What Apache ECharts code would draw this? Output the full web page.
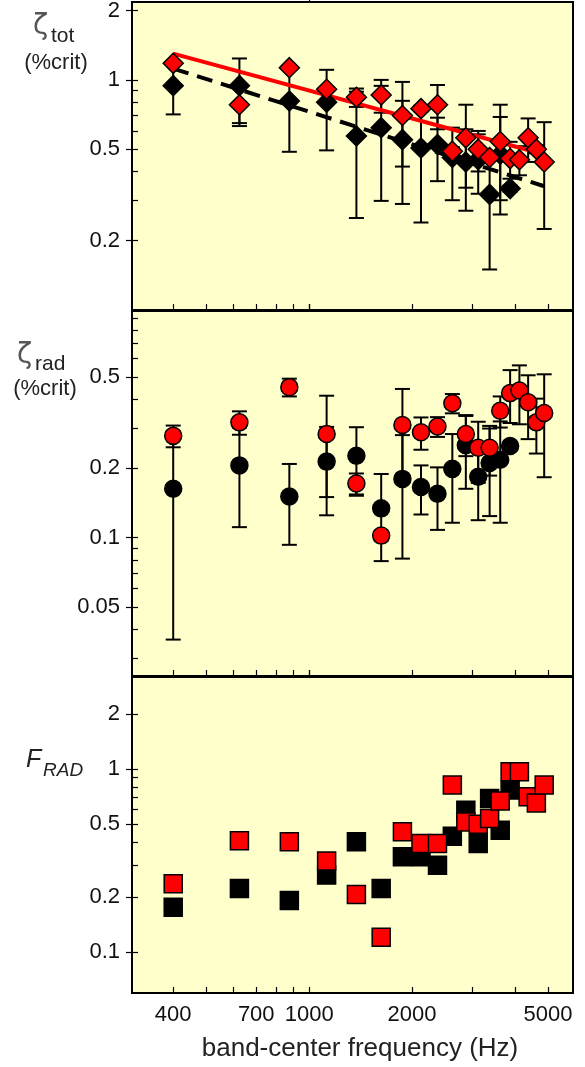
<!DOCTYPE html>
<html>
<head>
<meta charset="utf-8">
<title>Damping vs band-center frequency</title>
<script src="https://cdn.jsdelivr.net/npm/echarts@6.0.0/dist/echarts.min.js"></script>
<style>
  html, body { margin: 0; padding: 0; background: #fff; }
  #chart { width: 585px; height: 1067px; }
</style>
</head>
<body>
<div id="chart"></div>
<script>
// band-center frequencies (Hz); the black data stops at 3875 Hz
const freqs = [400, 625, 875, 1125, 1375, 1625, 1875, 2125, 2375, 2625, 2875, 3125, 3375, 3625, 3875, 4125, 4375, 4625, 4875];
const freqsBlack = freqs.slice(0, 15);

// panel 1: total damping (%crit), with +/- error
const totRed = [1.18, 0.78, 1.13, 0.91, 0.84, 0.86, 0.70, 0.75, 0.78, 0.49, 0.56, 0.50, 0.46, 0.54, 0.455, 0.45, 0.56, 0.50, 0.44];
const totRedErr = [0.01, 0.15, 0.01, 0.02, 0.077, 0.14, 0.28, 0.02, 0.17, 0.02, 0.22, 0.10, 0.01, 0.24, 0.083, 0.065, 0.12, 0.02, 0.215];
const totBlack = [0.944, 0.944, 0.81, 0.80, 0.57, 0.62, 0.55, 0.506, 0.524, 0.46, 0.44, 0.45, 0.318, 0.475, 0.337];
const totBlackErr = [0.236, 0.295, 0.323, 0.306, 0.319, 0.322, 0.261, 0.266, 0.161, 0.16, 0.17, 0.13, 0.168, 0.215, 0.01];

// fitted trend lines in panel 1 (end points)
const fitRedFreq = [400, 4625];
const fitRedTot = [1.30, 0.485];
const fitBlackFreq = [400, 4875];
const fitBlackTot = [1.12, 0.345];

// panel 2: radiation damping (%crit)
const radRed = [0.277, 0.317, 0.451, 0.282, 0.172, 0.102, 0.309, 0.287, 0.304, 0.384, 0.282, 0.246, 0.246, 0.356, 0.425, 0.436, 0.388, 0.317, 0.348];
const radRedErr = [0.03, 0.037, 0.04, 0.132, 0.018, 0.005, 0.134, 0.046, 0.03, 0.037, 0.056, 0.073, 0.06, 0.055, 0.11, 0.125, 0.12, 0.085, 0.165];
const radBlack = [0.163, 0.206, 0.151, 0.214, 0.227, 0.134, 0.180, 0.166, 0.155, 0.199, 0.252, 0.184, 0.211, 0.218, 0.25];
const radBlackErr = [0.127, 0.095, 0.058, 0.089, 0.075, 0.055, 0.099, 0.04, 0.047, 0.083, 0.089, 0.065, 0.087, 0.102, 0.01];

// panel 3: F_RAD
const fradRed = [0.237, 0.406, 0.401, 0.315, 0.207, 0.121, 0.455, 0.393, 0.393, 0.818, 0.515, 0.50, 0.538, 0.669, 0.967, 0.967, 0.706, 0.654, 0.818];
const fradBlack = [0.176, 0.223, 0.192, 0.264, 0.401, 0.223, 0.332, 0.332, 0.299, 0.43, 0.597, 0.393, 0.692, 0.464, 0.768];

// ticks
const xTicks = [400, 500, 600, 700, 800, 900, 1000, 2000, 3000, 4000, 5000];
const xLabels = [400, 700, 1000, 2000, 5000];
const totLabels = [0.2, 0.5, 1, 2];
const totMinor = [0.3, 0.4, 0.6, 0.7, 0.8, 0.9];
const radLabels = [0.05, 0.1, 0.2, 0.5];
const radMinor = [0.03, 0.04, 0.06, 0.07, 0.08, 0.09, 0.3, 0.4, 0.6, 0.7, 0.8, 0.9];
const fradLabels = [0.1, 0.2, 0.5, 1, 2];
const fradMinor = [0.3, 0.4, 0.6, 0.7, 0.8, 0.9];

const FONT = '"Liberation Sans", Arial, Helvetica, sans-serif';
const RED = '#ff0000';

const panels = [
  { top: 2, height: 308, min: 0.1, max: 2.18, labels: totLabels, minor: totMinor },
  { top: 311, height: 365, min: 0.025, max: 0.967, labels: radLabels, minor: radMinor },
  { top: 677, height: 316, min: 0.06, max: 3.18, labels: fradLabels, minor: fradMinor }
];

function pts(xs, ys) {
  return xs.map((x, i) => [x, ys[i]]);
}
function errData(xs, ys, es) {
  return xs.map((x, i) => [x, ys[i] - es[i], ys[i] + es[i]]);
}
function fmt(v) {
  return String(Number(Number(v).toPrecision(3)));
}

// vertical error bar with caps
function renderErrorBar(params, api) {
  const x = api.value(0);
  const lo = api.coord([x, api.value(1)]);
  const hi = api.coord([x, api.value(2)]);
  const half = 7.5;
  const st = () => ({ stroke: '#000', lineWidth: 2 });
  return {
    type: 'group',
    children: [
      { type: 'line', shape: { x1: lo[0], y1: lo[1], x2: hi[0], y2: hi[1] }, style: st() },
      { type: 'line', shape: { x1: hi[0] - half, y1: hi[1], x2: hi[0] + half, y2: hi[1] }, style: st() },
      { type: 'line', shape: { x1: lo[0] - half, y1: lo[1], x2: lo[0] + half, y2: lo[1] }, style: st() }
    ]
  };
}

const xAxes = [];
const yAxes = [];
panels.forEach((p, k) => {
  xAxes.push({
    type: 'log', gridIndex: k, min: 303, max: 5920,
    axisLine: { show: true, onZero: false, lineStyle: { color: '#000', width: 2 } },
    axisTick: { show: true, inside: true, length: 6, customValues: xTicks, lineStyle: { color: '#000', width: 1.2 } },
    axisLabel: {
      show: k === 2, customValues: xLabels, margin: 11,
      fontSize: 22, fontFamily: FONT, color: '#111',
      formatter: v => String(Math.round(v))
    },
    splitLine: { show: false }
  });
  yAxes.push({
    type: 'log', gridIndex: k, position: 'left', min: p.min, max: p.max,
    axisLine: { show: true, onZero: false, lineStyle: { color: '#000', width: 2 } },
    axisTick: { show: true, inside: false, length: 6, customValues: p.labels, lineStyle: { color: '#000', width: 1.2 } },
    axisLabel: { customValues: p.labels, margin: 12, fontSize: 22, fontFamily: FONT, color: '#111', formatter: fmt },
    splitLine: { show: false }
  });
});
// overlay axes: the 1000 Hz tick crosses the x axis, minor y ticks point inward
panels.forEach((p, k) => {
  xAxes.push({
    type: 'log', gridIndex: k, min: 303, max: 5920,
    axisLine: { show: false },
    axisTick: { show: true, inside: false, length: 7, customValues: [1000], lineStyle: { color: '#000', width: 1.2 } },
    axisLabel: { show: false },
    splitLine: { show: false }
  });
  yAxes.push({
    type: 'log', gridIndex: k, position: 'left', min: p.min, max: p.max,
    axisLine: { show: false },
    axisTick: { show: true, inside: true, length: 6, customValues: p.labels.concat(p.minor), lineStyle: { color: '#000', width: 1.2 } },
    axisLabel: { show: false },
    splitLine: { show: false }
  });
});

function errSeries(k, data) {
  return {
    type: 'custom', xAxisIndex: k, yAxisIndex: k, renderItem: renderErrorBar,
    encode: { x: 0, y: [1, 2] }, data: data, z: 2, silent: true
  };
}
function markSeries(k, symbol, size, color, data, z) {
  return {
    type: 'scatter', xAxisIndex: k, yAxisIndex: k, symbol: symbol, symbolSize: size,
    data: data, z: z, silent: true,
    itemStyle: { color: color, borderColor: '#000', borderWidth: 1.5, opacity: 1 }
  };
}

const series = [
  // panel 1
  errSeries(0, errData(freqsBlack, totBlack, totBlackErr)),
  errSeries(0, errData(freqs, totRed, totRedErr)),
  {
    type: 'line', xAxisIndex: 0, yAxisIndex: 0, data: pts(fitRedFreq, fitRedTot),
    showSymbol: false, symbol: 'none', silent: true, z: 3,
    lineStyle: { color: RED, width: 4 }
  },
  {
    type: 'line', xAxisIndex: 0, yAxisIndex: 0, data: pts(fitBlackFreq, fitBlackTot),
    showSymbol: false, symbol: 'none', silent: true, z: 3,
    lineStyle: { color: '#000', width: 4, type: [16, 9] }
  },
  markSeries(0, 'diamond', 20, '#000', pts(freqsBlack, totBlack), 4),
  markSeries(0, 'diamond', 20, RED, pts(freqs, totRed), 5),
  // panel 2
  errSeries(1, errData(freqsBlack, radBlack, radBlackErr)),
  errSeries(1, errData(freqs, radRed, radRedErr)),
  markSeries(1, 'circle', 17, '#000', pts(freqsBlack, radBlack), 4),
  markSeries(1, 'circle', 17, RED, pts(freqs, radRed), 5),
  // panel 3
  markSeries(2, 'rect', 18, '#000', pts(freqsBlack, fradBlack), 4),
  markSeries(2, 'rect', 18, RED, pts(freqs, fradRed), 5)
];

const txt = (x, y, text, size, align, extra) => ({
  type: 'text', x: x, y: y, silent: true,
  style: Object.assign({ text: text, fontSize: size, fontFamily: FONT, fill: '#222', textAlign: align, textVerticalAlign: 'middle' }, extra || {})
});
const GREEK = { fill: '#555', fontFamily: '"DejaVu Sans", sans-serif' };

const graphic = [
  txt(33, 27, 'ζ', 28, 'left', GREEK),
  txt(51, 36, 'tot', 21, 'left'),
  txt(56, 63, '(%crit)', 22, 'center'),
  txt(17, 356, 'ζ', 28, 'left', GREEK),
  txt(35, 364, 'rad', 21, 'left'),
  txt(45, 389, '(%crit)', 22, 'center'),
  txt(26, 760, 'F', 25, 'left', { fontStyle: 'italic' }),
  txt(43, 771, 'RAD', 19, 'left', { fontStyle: 'italic' }),
  txt(360, 1049, 'band-center frequency (Hz)', 26, 'center')
];

const chart = echarts.init(document.getElementById('chart'), null, { renderer: 'canvas' });
chart.setOption({
  animation: false,
  backgroundColor: '#fff',
  tooltip: { show: false },
  grid: panels.map(p => ({
    left: 132, right: 12, top: p.top, height: p.height,
    show: true, backgroundColor: '#ffffcc', borderColor: '#000', borderWidth: 2,
    outerBoundsMode: 'none'
  })),
  xAxis: xAxes,
  yAxis: yAxes,
  series: series,
  graphic: graphic
});
</script>
</body>
</html>
